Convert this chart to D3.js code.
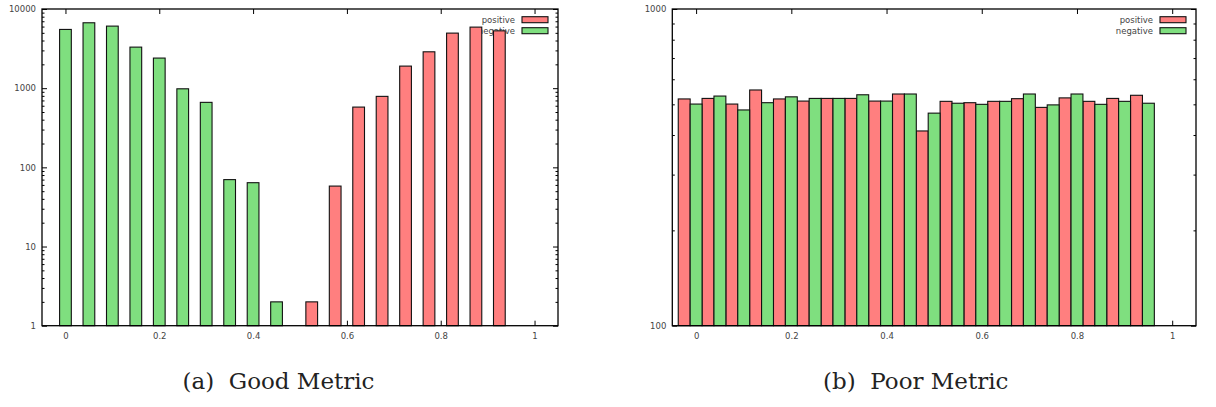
<!DOCTYPE html>
<html>
<head>
<meta charset="utf-8">
<script src="https://cdn.jsdelivr.net/npm/d3@7"></script>
<style>
  body { margin: 0; background: #fff; }
</style>
</head>
<body>
<script>
const xTicks = [0, 0.2, 0.4, 0.6, 0.8, 1];
const seriesNames = ["positive", "negative"];
const seriesColors = ["#ff7f7f", "#7fdf7f"];

// (a) Good Metric
const goodPosBins = [0.525, 0.575, 0.625, 0.675, 0.725, 0.775, 0.825, 0.875, 0.925];
const goodPosCounts = [2, 58, 577, 788, 1900, 2880, 4960, 5905, 5300];
const goodNegBins = [0, 0.05, 0.1, 0.15, 0.2, 0.25, 0.3, 0.35, 0.4, 0.45];
const goodNegCounts = [5520, 6700, 6080, 3300, 2400, 982, 662, 70, 64, 2];
const goodYTicks = [1, 10, 100, 1000, 10000];

// (b) Poor Metric
const poorPosBins = [-0.025, 0.025, 0.075, 0.125, 0.175, 0.225, 0.275, 0.325, 0.375, 0.425,
  0.475, 0.525, 0.575, 0.625, 0.675, 0.725, 0.775, 0.825, 0.875, 0.925];
const poorPosCounts = [520, 522, 501, 555, 520, 512, 522, 522, 512, 539,
  412, 511, 506, 511, 521, 489, 524, 511, 522, 534];
const poorNegBins = [0, 0.05, 0.1, 0.15, 0.2, 0.25, 0.3, 0.35, 0.4, 0.45,
  0.5, 0.55, 0.6, 0.65, 0.7, 0.75, 0.8, 0.85, 0.9, 0.95];
const poorNegCounts = [501, 531, 480, 506, 528, 522, 522, 536, 512, 539,
  469, 504, 500, 511, 539, 498, 539, 500, 511, 504];
const poorYTicks = [100, 1000];

const width = 1216;
const height = 407;
const binWidth = 0.025;

const svg = d3.select("body")
  .append("svg")
  .attr("xmlns", "http://www.w3.org/2000/svg")
  .attr("width", width)
  .attr("height", height);

svg.append("rect")
  .attr("width", "100%")
  .attr("height", "100%")
  .attr("fill", "white");

function drawPanel(p) {
  const x = d3.scaleLinear().domain([-0.05, 1.05]).range([p.left, p.right]);
  const y = d3.scaleLog().domain(p.yDomain).range([p.bottom, p.top]);
  const g = svg.append("g");
  const minor = y.ticks().filter(v => !p.yTicks.includes(v));

  const tickStyle = sel => {
    sel.select(".domain").remove();
    sel.selectAll("line").attr("stroke", "#000").attr("stroke-width", 1);
    sel.selectAll("text")
      .attr("fill", "#444")
      .attr("font-family", "DejaVu Sans")
      .attr("font-size", 8.5);
  };

  // x axis bottom + top mirror
  g.append("g")
    .attr("transform", "translate(0," + p.bottom + ")")
    .call(d3.axisBottom(x).tickValues(xTicks).tickSize(-5).tickPadding(7).tickFormat(d3.format("")))
    .call(tickStyle);
  g.append("g")
    .attr("transform", "translate(0," + p.top + ")")
    .call(d3.axisTop(x).tickValues(xTicks).tickSize(-5).tickFormat(""))
    .call(tickStyle);

  // y axis left + right mirror, majors and minors
  g.append("g")
    .attr("transform", "translate(" + p.left + ",0)")
    .call(d3.axisLeft(y).tickValues(p.yTicks).tickSize(-5).tickPadding(6).tickFormat(d3.format("")))
    .call(tickStyle);
  g.append("g")
    .attr("transform", "translate(" + p.left + ",0)")
    .call(d3.axisLeft(y).tickValues(minor).tickSize(-2.5).tickFormat(""))
    .call(tickStyle);
  g.append("g")
    .attr("transform", "translate(" + p.right + ",0)")
    .call(d3.axisRight(y).tickValues(p.yTicks).tickSize(-5).tickFormat(""))
    .call(tickStyle);
  g.append("g")
    .attr("transform", "translate(" + p.right + ",0)")
    .call(d3.axisRight(y).tickValues(minor).tickSize(-2.5).tickFormat(""))
    .call(tickStyle);

  // legend labels (drawn under the bars)
  seriesNames.forEach((name, i) => {
    g.append("text")
      .attr("x", p.right - 43)
      .attr("y", p.top + 10.7 + i * 11)
      .attr("dy", "0.35em")
      .attr("text-anchor", "end")
      .attr("fill", "#444")
      .attr("font-family", "DejaVu Sans")
      .attr("font-size", 8.5)
      .text(name);
  });

  const series = [
    { bins: p.posBins, counts: p.posCounts, color: seriesColors[0] },
    { bins: p.negBins, counts: p.negCounts, color: seriesColors[1] },
  ];
  series.forEach(s => {
    g.selectAll(null)
      .data(s.bins.map((b, i) => ({ b, v: s.counts[i] })))
      .join("rect")
      .attr("x", d => x(d.b - binWidth / 2))
      .attr("width", d => x(d.b + binWidth / 2) - x(d.b - binWidth / 2))
      .attr("y", d => y(d.v))
      .attr("height", d => p.bottom - y(d.v))
      .attr("fill", s.color)
      .attr("stroke", "#111")
      .attr("stroke-width", 1.1);
  });

  // legend swatches
  seriesNames.forEach((name, i) => {
    g.append("rect")
      .attr("x", p.right - 36)
      .attr("y", p.top + 7.7 + i * 11)
      .attr("width", 26)
      .attr("height", 6)
      .attr("fill", seriesColors[i])
      .attr("stroke", "#111")
      .attr("stroke-width", 1.1);
  });

  // border
  g.append("rect")
    .attr("x", p.left)
    .attr("y", p.top)
    .attr("width", p.right - p.left)
    .attr("height", p.bottom - p.top)
    .attr("fill", "none")
    .attr("stroke", "#000")
    .attr("stroke-width", 1.3);

  svg.append("text")
    .attr("x", p.captionX)
    .attr("y", 389)
    .attr("text-anchor", "middle")
    .attr("font-family", "DejaVu Serif")
    .attr("font-size", 23)
    .attr("fill", "#222")
    .attr("style", "white-space: pre")
    .text(p.caption);
}

drawPanel({
  left: 42, right: 558, top: 9, bottom: 325.7,
  yDomain: [1, 10000], yTicks: goodYTicks,
  posBins: goodPosBins, posCounts: goodPosCounts,
  negBins: goodNegBins, negCounts: goodNegCounts,
  caption: "(a)  Good Metric", captionX: 278.5,
});

drawPanel({
  left: 672.3, right: 1196, top: 9, bottom: 325.7,
  yDomain: [100, 1000], yTicks: poorYTicks,
  posBins: poorPosBins, posCounts: poorPosCounts,
  negBins: poorNegBins, negCounts: poorNegCounts,
  caption: "(b)  Poor Metric", captionX: 915.7,
});
</script>
</body>
</html>
